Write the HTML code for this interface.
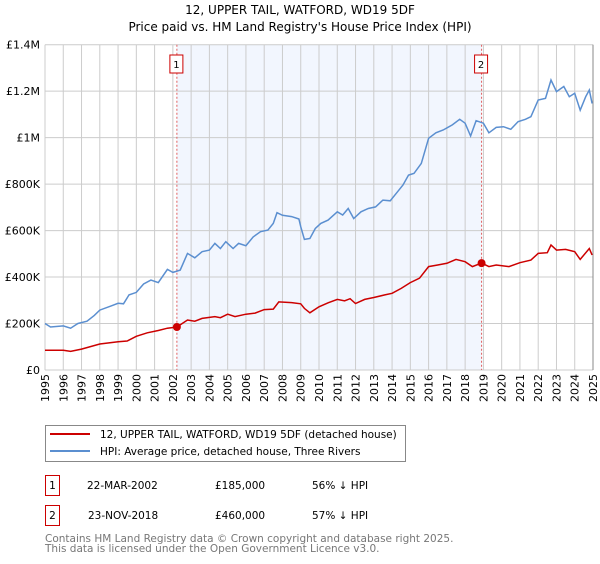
<!DOCTYPE html>
<html><head><meta charset="utf-8"><style>
body{margin:0;background:#fff;font-family:"DejaVu Sans","Liberation Sans",sans-serif;}
svg text{font-family:"DejaVu Sans","Liberation Sans",sans-serif;}
</style></head><body>
<svg id="c" width="600" height="560" viewBox="0 0 600 560" xmlns="http://www.w3.org/2000/svg">
<text x="300" y="14" text-anchor="middle" font-size="12" fill="#000">12, UPPER TAIL, WATFORD, WD19 5DF</text>
<text x="300" y="31" text-anchor="middle" font-size="12" fill="#000">Price paid vs. HM Land Registry's House Price Index (HPI)</text>
<g id="plot"></g>
<g>
<rect x="45.5" y="425.5" width="360" height="36" fill="#fff" stroke="#888"/>
<line x1="50" y1="434" x2="90" y2="434" stroke="#cc0000" stroke-width="2"/>
<text x="100" y="438" font-size="10.5">12, UPPER TAIL, WATFORD, WD19 5DF (detached house)</text>
<line x1="50" y1="451" x2="90" y2="451" stroke="#5b8fd0" stroke-width="2"/>
<text x="100" y="455" font-size="10.5">HPI: Average price, detached house, Three Rivers</text>
</g>
<g font-size="10.5">
<rect x="45.5" y="475.5" width="14" height="20" fill="#fff" stroke="#cc0000"/>
<text x="52.5" y="489" text-anchor="middle">1</text>
<text x="87" y="489">22-MAR-2002</text><text x="215" y="489">£185,000</text><text x="312" y="489">56% ↓ HPI</text>
<rect x="45.5" y="505.5" width="14" height="20" fill="#fff" stroke="#cc0000"/>
<text x="52.5" y="519" text-anchor="middle">2</text>
<text x="88" y="519">23-NOV-2018</text><text x="215" y="519">£460,000</text><text x="312" y="519">57% ↓ HPI</text>
</g>
<text x="45" y="542" font-size="10.5" fill="#777">Contains HM Land Registry data © Crown copyright and database right 2025.</text>
<text x="45" y="552" font-size="10.5" fill="#777">This data is licensed under the Open Government Licence v3.0.</text>
</svg>
<script>
const hpiYears=[1995,1995.3,1996,1996.4,1996.8,1997.3,1997.7,1998,1998.6,1999,1999.3,1999.6,2000,2000.4,2000.8,2001.2,2001.7,2002,2002.4,2002.8,2003.2,2003.6,2004,2004.3,2004.6,2004.9,2005.3,2005.6,2006,2006.4,2006.8,2007.2,2007.5,2007.7,2008,2008.5,2008.9,2009,2009.2,2009.5,2009.8,2010.1,2010.5,2011,2011.3,2011.6,2011.9,2012.3,2012.7,2013.1,2013.5,2013.9,2014.3,2014.6,2014.9,2015.2,2015.6,2016,2016.4,2016.8,2017.3,2017.7,2018,2018.3,2018.6,2019,2019.3,2019.7,2020.1,2020.5,2020.9,2021.3,2021.6,2022,2022.4,2022.7,2023,2023.4,2023.7,2024,2024.3,2024.6,2024.8,2024.95];
const hpiValues=[200,185,190,180,200,210,235,258,275,287,285,323,334,370,387,376,433,420,430,502,483,509,516,545,523,552,523,545,535,573,595,602,631,677,666,660,650,617,562,566,609,631,645,681,667,695,652,681,695,702,731,728,767,796,839,846,889,997,1021,1033,1055,1079,1062,1007,1073,1062,1021,1044,1047,1036,1069,1079,1090,1162,1169,1248,1198,1220,1176,1191,1118,1176,1205,1147];
const paidYears=[1995,1996,1996.4,1997,1998,1999,1999.5,2000,2000.6,2001.2,2001.7,2002.22,2002.8,2003.2,2003.6,2004.3,2004.6,2005,2005.4,2006,2006.5,2007,2007.5,2007.8,2008.5,2009,2009.2,2009.5,2010,2010.5,2011,2011.4,2011.7,2012,2012.5,2013,2013.6,2014,2014.5,2015,2015.5,2016,2016.5,2017,2017.5,2018,2018.4,2018.9,2019.3,2019.7,2020.4,2021,2021.6,2022,2022.5,2022.7,2023,2023.5,2024,2024.3,2024.8,2024.95];
const paidValues=[85,85,80,90,112,122,125,145,160,170,180,185,215,210,222,230,225,240,230,240,245,260,262,293,290,285,265,246,272,289,304,298,307,286,304,312,323,330,351,376,395,445,452,459,476,466,445,460,445,452,445,462,473,502,505,538,516,519,509,476,523,495];
const saleYears=[2002.22,2018.9];
const saleValues=[185,460];
const saleLabels=["1","2"];
const yTicks=[0,200,400,600,800,1000,1200,1400];
const yTickLabels=["£0","£200K","£400K","£600K","£800K","£1M","£1.2M","£1.4M"];
const xTicks=[1995,1996,1997,1998,1999,2000,2001,2002,2003,2004,2005,2006,2007,2008,2009,2010,2011,2012,2013,2014,2015,2016,2017,2018,2019,2020,2021,2022,2023,2024,2025];

const X0=45,X1=593,Y0=370,Y1=44.7;
const xs=y=>X0+(y-1995)/30*(X1-X0);
const ys=v=>Y0-v/1400*(Y0-Y1);
const NS="http://www.w3.org/2000/svg";
const g=document.getElementById('plot');
function mk(t,a){const e=document.createElementNS(NS,t);for(const k in a)e.setAttribute(k,a[k]);g.appendChild(e);return e;}
let sh=mk('rect',{x:xs(saleYears[0]),y:Y1,width:xs(saleYears[1])-xs(saleYears[0]),height:Y0-Y1,fill:'#eef3fd',opacity:0.75});


xTicks.forEach((t,i)=>{
 let l=mk('line',{x1:xs(t),x2:xs(t),y1:Y1,y2:Y0,stroke:'#cccccc'});
 
 
 const lx=xs(t)+4, ly=Y0+4;
 let tx=mk('text',{x:lx,y:ly,'font-size':'11','text-anchor':'end',transform:`rotate(-90 ${lx} ${ly})`});
 tx.textContent=t;
 
 
});
yTicks.forEach((t,i)=>{
 let l=mk('line',{x1:X0,x2:X1,y1:ys(t),y2:ys(t),stroke:'#cccccc'});
 
 
 let tx=mk('text',{x:40,y:ys(t)+4,'font-size':'11','text-anchor':'end'});
 tx.textContent=yTickLabels[i];
 
 
});
let ax=mk('line',{x1:X1,x2:X1,y1:Y1,y2:Y0,stroke:'#888'});


saleYears.forEach((s,i)=>{
 let l=mk('line',{x1:xs(s),x2:xs(s),y1:Y1,y2:Y0,stroke:'#e06060','stroke-dasharray':'2,2'});
 
 
 let r=mk('rect',{x:xs(s)-7,y:55,width:13,height:18,fill:'#fff',stroke:'#cc0000'});
 
 
 let t=mk('text',{x:xs(s)-0.5,y:68,'font-size':'10','text-anchor':'middle'});
 t.textContent=saleLabels[i];
 
 
});
let hp=mk('path',{d:hpiYears.map((y,i)=>(i?'L':'M')+xs(y).toFixed(1)+' '+ys(hpiValues[i]).toFixed(1)).join(''),fill:'none',stroke:'#5b8fd0','stroke-width':1.5});


let pp=mk('path',{d:paidYears.map((y,i)=>(i?'L':'M')+xs(y).toFixed(1)+' '+ys(paidValues[i]).toFixed(1)).join(''),fill:'none',stroke:'#cc0000','stroke-width':1.5});


saleYears.forEach((s,i)=>{
 let c=mk('circle',{cx:xs(s),cy:ys(saleValues[i]),r:4,fill:'#cc0000'});
 
 
});
</script>
</body></html>
